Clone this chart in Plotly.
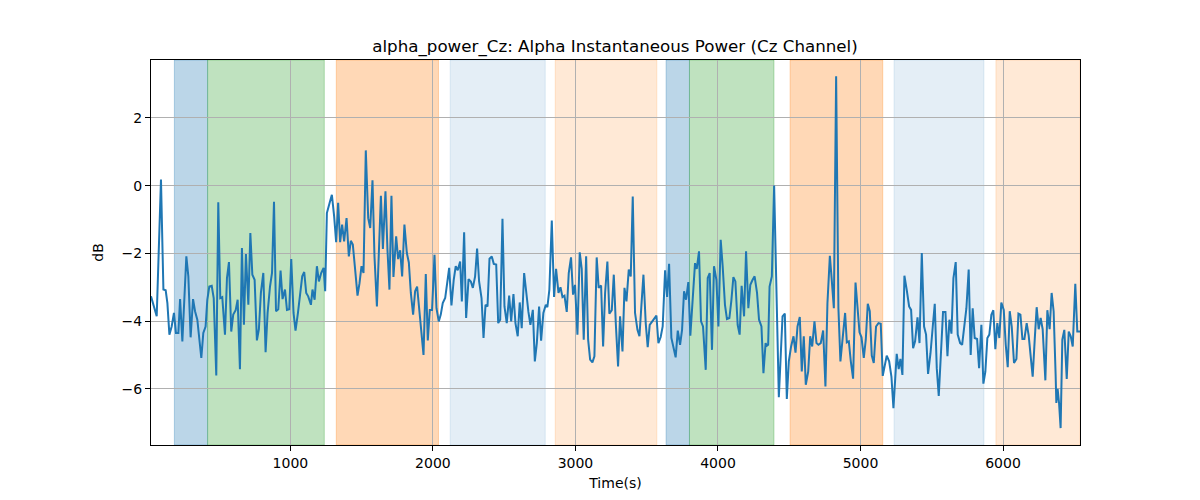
import plotly.graph_objects as go

# ---- data ----
times = [22, 62, 92, 109, 125, 137, 151, 167, 183, 197, 214, 226, 242, 256, 270, 284, 300, 317, 331, 347,
         361, 375, 389, 405, 417, 431, 448, 462, 480, 494, 508, 522, 541, 555, 569, 585, 599, 616, 630, 646,
         660, 674, 688, 705, 719, 733, 749, 765, 779, 793, 810, 826, 840, 857, 871, 885, 899, 915, 931, 945,
         962, 976, 992, 1006, 1022, 1036, 1053, 1067, 1083, 1097, 1111, 1125,
         1144, 1155, 1170, 1186, 1200, 1216, 1233, 1244, 1256, 1275, 1291, 1307, 1321, 1335, 1349, 1363, 1377, 1394,
         1410, 1424, 1438, 1452, 1471, 1485, 1499, 1513, 1529, 1546, 1560, 1576, 1590, 1607, 1621, 1635, 1649, 1667,
         1681, 1695, 1709, 1723, 1742, 1756, 1770, 1784, 1800, 1817, 1831, 1845, 1861, 1875, 1889, 1903, 1920, 1934,
         1950, 1964, 1978, 1994, 2011, 2025, 2041, 2055, 2069, 2086, 2100, 2114, 2130, 2146, 2160, 2174, 2191,
         2203, 2219, 2233, 2250, 2266, 2280, 2296, 2310, 2324, 2341, 2355, 2369, 2383, 2397, 2413, 2427, 2444, 2458,
         2472, 2488, 2502, 2518, 2535, 2549, 2565, 2579, 2595, 2609, 2623, 2640, 2654, 2670, 2684, 2701, 2715, 2729,
         2745, 2759, 2775, 2792, 2803, 2817, 2834, 2850, 2864, 2881, 2895, 2909, 2923, 2939, 2953, 2969, 2983, 2997,
         3014, 3030, 3044, 3058, 3075, 3089, 3103, 3119, 3133, 3149, 3163, 3180, 3194, 3208, 3224, 3238,
         3255, 3269, 3283, 3299, 3313, 3330, 3344, 3358, 3374, 3388, 3402, 3418, 3435, 3449, 3463, 3477, 3493, 3507,
         3521, 3538, 3552, 3568, 3582, 3598, 3612, 3629, 3643, 3657, 3673, 3687, 3703, 3718, 3734, 3748, 3762, 3776,
         3792, 3806, 3823, 3839, 3851, 3867, 3881, 3895, 3914, 3928, 3942, 3958, 3972, 3989, 4003, 4019, 4033, 4049,
         4063, 4080, 4094, 4108, 4122, 4138, 4152, 4166, 4183, 4197, 4213, 4227, 4243, 4257, 4274, 4288,
         4305, 4319, 4334, 4343, 4352, 4362, 4378, 4394, 4408, 4427, 4441, 4453, 4469, 4483, 4497, 4513, 4530, 4544,
         4558, 4574, 4588, 4602, 4616, 4633, 4647, 4661, 4677, 4691, 4705, 4721, 4738, 4754, 4768, 4785, 4799, 4813,
         4829, 4845, 4859, 4876, 4892, 4904, 4918, 4932, 4948, 4965, 4979, 4993, 5007, 5023, 5037, 5051, 5065, 5079,
         5093, 5109, 5126, 5142, 5156, 5170, 5184, 5201, 5217, 5231, 5245, 5254, 5268, 5280, 5294, 5308, 5324, 5341,
         5355, 5369, 5383, 5400, 5414, 5430, 5446, 5460, 5474, 5491, 5507, 5521, 5535, 5549, 5565, 5579, 5596, 5610,
         5624, 5638, 5652, 5668, 5682, 5699, 5713, 5727, 5743, 5759, 5773, 5787, 5801, 5818, 5832, 5848, 5862, 5876,
         5890, 5904, 5918, 5932, 5946, 5960, 5974, 5988, 6005, 6019, 6033, 6047, 6061, 6077, 6094, 6108, 6122, 6136,
         6150, 6166, 6180, 6194, 6208, 6222, 6236, 6250, 6264, 6278, 6297, 6311, 6327, 6341, 6355, 6369, 6374, 6383,
         6393, 6404, 6416, 6430, 6447, 6461, 6475, 6489, 6507, 6521, 6540]

power_db = [-3.27, -3.86, 0.18, -3.07, -3.09, -3.47, -4.40, -4.16, -3.76, -4.35, -4.35, -3.35, -4.60, -3.17, -2.09, -2.68, -4.48, -3.35, -3.71, -3.96,
            -4.55, -5.09, -4.35, -4.16, -3.37, -2.98, -2.96, -3.32, -5.61, -0.49, -3.32, -3.29, -4.40, -2.73, -2.26, -4.31, -3.81, -3.68, -3.37, -5.42,
            -1.84, -4.11, -2.02, -3.52, -1.40, -2.63, -2.78, -4.57, -4.24, -3.17, -2.58, -4.92, -3.76, -2.98, -2.58, -0.48, -3.71, -3.65, -2.51, -3.35,
            -3.07, -3.67, -3.65, -2.17, -3.76, -4.28, -3.76, -3.17, -2.68, -2.55, -3.17, -3.27,
            -3.52, -3.07, -3.37, -2.38, -2.83, -2.58, -2.43, -3.12, -0.81, -0.51, -0.27, -0.91, -1.67, -0.51, -1.67, -1.15, -1.65, -0.96,
            -2.09, -1.63, -1.74, -2.38, -3.25, -2.88, -2.38, -2.58, 1.04, -0.96, -1.25, 0.16, -2.09, -3.57, -1.89, -0.30, -1.87, -0.17,
            -1.89, -3.07, -0.30, -2.70, -1.50, -2.17, -1.91, -2.68, -1.15, -1.99, -2.27, -3.17, -3.81, -3.12, -2.98, -3.57, -4.35, -5.00,
            -2.61, -4.57, -3.67, -3.67, -2.04, -3.62, -4.01, -3.81, -3.47, -3.32, -2.88, -2.43, -3.54, -2.78, -2.38, -2.50, -2.24,
            -3.42, -1.38, -3.91, -2.76, -2.83, -3.02, -2.68, -1.86, -2.83, -3.32, -4.50, -3.52, -3.57, -2.16, -2.09, -2.31, -2.33, -4.06,
            -3.96, -0.98, -3.57, -4.06, -3.25, -4.01, -3.20, -4.06, -4.45, -3.45, -4.21, -2.58, -3.17, -3.73, -4.11, -3.67, -5.19, -4.65,
            -3.57, -4.58, -3.76, -3.52, -3.59, -3.07, -1.03, -3.29, -2.46, -3.17, -3.00, -3.29, -3.25, -3.73, -2.58, -2.12, -3.22, -2.93,
            -4.40, -1.97, -2.46, -4.55, -2.09, -4.55, -5.14, -5.22, -5.04, -2.12, -3.02, -2.95, -4.75, -3.17, -2.24, -3.78,
            -3.68, -2.63, -4.06, -5.34, -3.86, -4.90, -3.02, -3.42, -2.48, -2.68, -0.32, -3.76, -4.26, -4.45, -3.52, -2.63, -4.06, -4.77,
            -4.11, -4.01, -3.96, -3.84, -4.65, -4.47, -4.16, -2.50, -3.29, -2.31, -4.50, -4.75, -5.07, -4.28, -4.70, -4.26, -3.12, -3.37,
            -2.85, -4.43, -3.44, -2.29, -2.46, -1.94, -4.01, -4.16, -5.44, -2.73, -2.58, -4.85, -2.38, -2.78, -4.16, -1.60, -2.38, -3.52,
            -3.94, -3.91, -3.39, -2.70, -2.83, -4.11, -4.40, -2.96, -3.86, -1.94, -3.62, -2.93, -2.78, -2.68, -3.17, -3.96,
            -4.16, -5.54, -4.65, -4.73, -4.70, -2.98, -2.68, 0.00, -2.68, -6.25, -4.95, -3.86, -3.78, -6.30, -5.19, -4.75, -4.45, -4.93,
            -4.16, -3.88, -5.49, -4.45, -5.88, -5.49, -4.45, -4.75, -4.01, -4.65, -4.70, -4.65, -4.28, -5.93, -3.47, -2.07, -2.83, -3.62,
            3.23, -3.62, -5.19, -4.50, -3.76, -4.63, -4.60, -5.19, -5.70, -2.86, -3.76, -4.33, -4.48, -5.09, -4.55, -3.49, -3.71, -5.02,
            -5.24, -4.16, -4.06, -4.08, -5.62, -5.26, -5.02, -5.19, -5.64, -6.57, -5.54, -4.97, -5.42, -5.12, -5.59, -2.66, -3.07, -3.57,
            -3.67, -4.80, -4.60, -3.89, -4.65, -1.99, -4.16, -4.40, -5.56, -4.95, -4.16, -3.49, -5.39, -6.21, -4.90, -3.73, -3.73, -5.04,
            -3.96, -4.37, -2.73, -2.26, -4.40, -4.65, -4.70, -4.16, -3.62, -2.48, -5.00, -3.62, -4.50, -4.53, -5.39, -4.11, -5.85, -5.49,
            -4.50, -4.40, -3.81, -3.68, -4.83, -4.06, -4.50, -3.45, -3.67, -4.70, -5.36, -3.71, -4.16, -5.24, -5.12, -3.78, -3.81, -4.53,
            -4.53, -4.06, -4.43, -5.04, -5.64, -4.57, -3.59, -4.24, -3.91, -4.24, -5.75, -3.68, -4.24, -3.17, -3.71, -5.59, -6.42, -6.00,
            -6.42, -7.16, -4.55, -4.26, -5.71, -4.31, -4.45, -4.75, -2.90, -4.31, -4.31]

# shaded intervals
span_starts = [186, 419, 1322, 2121, 2858, 3636, 3800, 4506, 5235, 5950]
span_ends = [419, 1238, 2039, 2788, 3571, 3800, 4393, 5156, 5866, 6540]
span_colors = [(31, 119, 180), (44, 160, 44), (255, 127, 14), (31, 119, 180), (255, 127, 14),
               (31, 119, 180), (44, 160, 44), (255, 127, 14), (31, 119, 180), (255, 127, 14)]
span_alphas = [0.3, 0.3, 0.3, 0.12, 0.17, 0.3, 0.3, 0.3, 0.12, 0.17]

x_ticks = [1000, 2000, 3000, 4000, 5000, 6000]
y_ticks = [-6, -4, -2, 0, 2]

FONT = "DejaVu Sans"

fig = go.Figure()
fig.add_trace(go.Scatter(x=times, y=power_db, mode="lines",
                         line=dict(color="#1f77b4", width=2), showlegend=False))

for s, e, c, a in zip(span_starts, span_ends, span_colors, span_alphas):
    rgba = f"rgba({c[0]},{c[1]},{c[2]},{a})"
    fig.add_vrect(x0=s, x1=e, fillcolor=rgba, opacity=1,
                  line=dict(color=rgba, width=1), layer="below")

fig.update_layout(
    width=1200, height=500,
    margin=dict(l=151, r=120, t=60, b=55),
    paper_bgcolor="white", plot_bgcolor="white",
    font=dict(family=FONT, size=14, color="black"),
    title=dict(text="alpha_power_Cz: Alpha Instantaneous Power (Cz Channel)",
               x=0.5125, xanchor="center", y=1 - 46 / 500, yanchor="middle",
               font=dict(family=FONT, size=16.7, color="black")),
    xaxis=dict(range=[22, 6540], tickvals=x_ticks, showgrid=True, gridcolor="#b0b0b0", gridwidth=1,
               zeroline=False, showline=True, linecolor="black", linewidth=1, mirror=True,
               ticks="outside", ticklen=5, tickwidth=1, tickcolor="black",
               title=dict(text="Time(s)", font=dict(family=FONT, size=14), standoff=8)),
    yaxis=dict(range=[-7.66, 3.71], tickvals=y_ticks, showgrid=True, gridcolor="#b0b0b0", gridwidth=1,
               zeroline=False, showline=True, linecolor="black", linewidth=1, mirror=True,
               ticks="outside", ticklen=5, tickwidth=1, tickcolor="black",
               title=dict(text="dB", font=dict(family=FONT, size=14), standoff=14)),
)

fig.write_html("out.html")
